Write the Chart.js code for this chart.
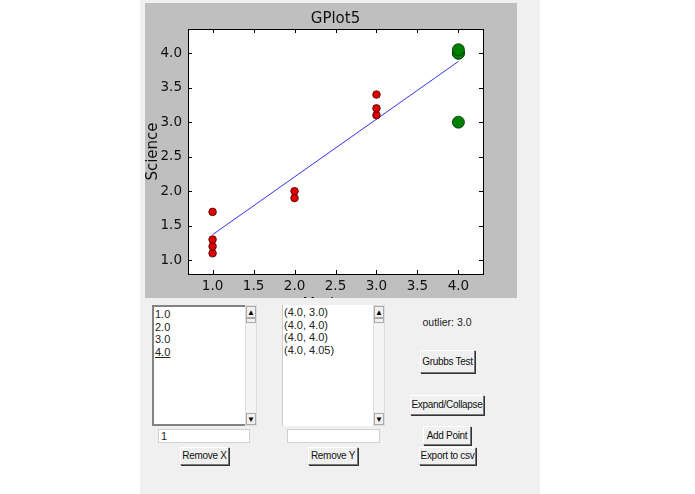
<!DOCTYPE html>
<html><head><meta charset="utf-8">
<script src="https://cdn.jsdelivr.net/npm/chart.js@4"></script>
<style>
body{margin:0;background:#fff;width:695px;height:494px;position:relative;overflow:hidden;font-family:"Liberation Sans",Arial,sans-serif;font-size:11px}
#panel{position:absolute;left:140px;top:0;width:400px;height:494px;background:#f0f0f0}
#plotbg{position:absolute;left:145px;top:3px;width:372px;height:295px;background:#bfbfbf}
#cv{position:absolute;left:145px;top:3px}
.lb{position:absolute;background:#fff;border:2px solid #828282;border-right:none;box-sizing:border-box;padding:1px 1px;line-height:12.5px;color:#222}
.sb{position:absolute;background:#f4f4f4;border:1px solid #ddd;box-sizing:border-box}
.ar{position:absolute;left:0;width:100%;height:12px;text-align:center;font-size:8px;line-height:12px;background:#f0f0f0;border:1px solid #aaa;box-sizing:border-box}
.en{position:absolute;background:#fff;border:1px solid #d0d0d0;box-sizing:border-box;height:14px;padding-left:2px;line-height:12px;color:#222}
.bt{position:absolute;background:#f0f0f0;border:1px solid #fff;border-right-color:#777;border-bottom-color:#777;box-shadow:1px 1px 0 #333;box-sizing:border-box;text-align:center;color:#111;white-space:nowrap;font-size:10px;letter-spacing:-0.3px;overflow:hidden}
</style></head><body>
<div id="panel"></div>
<div id="plotbg"></div>
<canvas id="cv" width="372" height="295" style="width:372px;height:295px"></canvas>

<div class="lb" style="left:152px;top:305px;width:94px;height:121px"><div>1.0</div><div>2.0</div><div>3.0</div><div style="text-decoration:underline">4.0</div></div>
<div class="sb" style="left:245px;top:305px;width:12px;height:121px"><div class="ar" style="top:0">▲</div><div class="ar" style="top:12px;height:5px"></div><div class="ar" style="bottom:0">▼</div></div>
<div class="en" style="left:158px;top:429px;width:92px">1</div>
<div class="bt" style="left:180px;top:447px;width:49px;height:18px;line-height:16px">Remove X</div>

<div class="lb" style="left:282px;top:305px;width:92px;height:121px;border:none;border-left:1px solid #ccc"><div>(4.0, 3.0)</div><div>(4.0, 4.0)</div><div>(4.0, 4.0)</div><div>(4.0, 4.05)</div></div>
<div class="sb" style="left:373px;top:305px;width:12px;height:121px"><div class="ar" style="top:0">▲</div><div class="ar" style="top:12px;height:5px"></div><div class="ar" style="bottom:0">▼</div></div>
<div class="en" style="left:287px;top:429px;width:93px"></div>
<div class="bt" style="left:308px;top:447px;width:50px;height:18px;line-height:16px">Remove Y</div>

<div style="position:absolute;left:407px;top:316px;width:80px;text-align:center;color:#222;font-size:10.5px">outlier: 3.0</div>
<div class="bt" style="left:420px;top:350px;width:55px;height:23px;line-height:21px">Grubbs Test</div>
<div class="bt" style="left:410px;top:395px;width:74px;height:20px;line-height:18px">Expand/Collapse</div>
<div class="bt" style="left:423px;top:426px;width:48px;height:19px;line-height:17px">Add Point</div>
<div class="bt" style="left:419px;top:447px;width:57px;height:18px;line-height:16px">Export to csv</div>

<script>
const xRed=[1,1,1,1,2,2,3,3,3];
const yRed=[1.1,1.2,1.3,1.7,1.9,2.0,3.1,3.2,3.4];
const xGreen=[4,4,4,4];
const yGreen=[3.0,4.0,4.0,4.05];
const xFit=[1,4];
const yFit=[1.37,3.88];
const xTicks=[1.0,1.5,2.0,2.5,3.0,3.5,4.0];
const yTicks=[1.0,1.5,2.0,2.5,3.0,3.5,4.0];
const title="GPlot5", xLabel="Madness", yLabel="Science";
const pts=(xs,ys)=>xs.map((x,i)=>({x,y:ys[i]}));
const frame={id:'frame',afterDraw(c){const ctx=c.ctx,a=c.chartArea,sx=c.scales.x,sy=c.scales.y;
 ctx.save();ctx.strokeStyle='#000';ctx.lineWidth=1;ctx.strokeRect(a.left+0.5,a.top+0.5,a.right-a.left,a.bottom-a.top);
 ctx.beginPath();
 xTicks.forEach(v=>{const p=Math.round(sx.getPixelForValue(v))+0.5;ctx.moveTo(p,a.bottom);ctx.lineTo(p,a.bottom-4);ctx.moveTo(p,a.top);ctx.lineTo(p,a.top+4);});
 yTicks.forEach(v=>{const p=Math.round(sy.getPixelForValue(v))+0.5;ctx.moveTo(a.left,p);ctx.lineTo(a.left+4,p);ctx.moveTo(a.right,p);ctx.lineTo(a.right-4,p);});
 ctx.stroke();
 ctx.fillStyle='#111';ctx.font='13.5px "DejaVu Sans"';ctx.textAlign='center';ctx.textBaseline='top';
 xTicks.forEach(v=>ctx.fillText(v.toFixed(1),sx.getPixelForValue(v),a.bottom+6));
 ctx.textAlign='right';ctx.textBaseline='middle';
 yTicks.forEach(v=>ctx.fillText(v.toFixed(1),a.left-6,sy.getPixelForValue(v)));
 ctx.font='15px "DejaVu Sans"';ctx.textAlign='center';ctx.textBaseline='alphabetic';
 ctx.fillText(title,(a.left+a.right)/2,20);
 ctx.fillText(xLabel,(a.left+a.right)/2,a.bottom+35);
 ctx.translate(8,(a.top+a.bottom)/2);ctx.rotate(-Math.PI/2);ctx.textBaseline='middle';ctx.fillText(yLabel,0,0);
 ctx.restore();}};
new Chart(document.getElementById('cv'),{type:'scatter',
 data:{datasets:[
  {type:'line',data:pts(xFit,yFit),borderColor:'#3333ee',borderWidth:1,pointRadius:0,fill:false,order:3},
  {data:pts(xRed,yRed),backgroundColor:'#e00000',borderColor:'#400000',borderWidth:0.8,pointRadius:3.8,order:2},
  {data:pts(xGreen,yGreen),backgroundColor:'#008000',borderColor:'#003000',borderWidth:0.8,pointRadius:6,order:1}]},
 options:{responsive:false,animation:false,events:[],
  layout:{padding:{left:43,top:26,right:34,bottom:24}},
  plugins:{legend:{display:false},tooltip:{enabled:false}},
  scales:{x:{type:'linear',min:0.7,max:4.3,display:false},
          y:{type:'linear',min:0.8,max:4.35,display:false}}},
 plugins:[{id:'bg',beforeDraw(c){const a=c.chartArea;c.ctx.fillStyle='#fff';c.ctx.fillRect(a.left,a.top,a.right-a.left,a.bottom-a.top);}},frame]});
</script>
</body></html>
